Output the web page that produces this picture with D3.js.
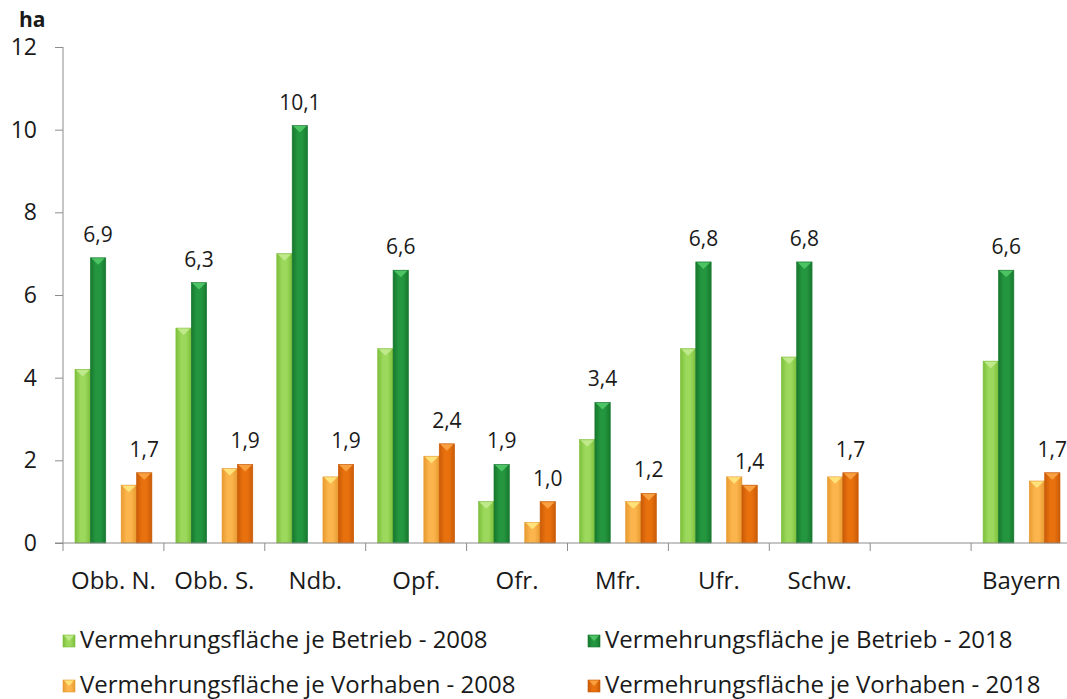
<html>
<head>
<meta charset="utf-8">
<script src="https://d3js.org/d3.v7.min.js"></script>
<style>
  body { margin: 0; background: #fff; }
  text { font-family: "Open Sans", sans-serif; fill: #1a1a1a; }
</style>
</head>
<body>
<script>
// categories (one empty slot before Bayern)
var regions = ["Obb. N.", "Obb. S.", "Ndb.", "Opf.", "Ofr.", "Mfr.", "Ufr.", "Schw.", "", "Bayern"];
var betrieb2008 = [4.2, 5.2, 7.0, 4.7, 1.0, 2.5, 4.7, 4.5, null, 4.4];
var betrieb2018 = [6.9, 6.3, 10.1, 6.6, 1.9, 3.4, 6.8, 6.8, null, 6.6];
var vorhaben2008 = [1.4, 1.8, 1.6, 2.1, 0.5, 1.0, 1.6, 1.6, null, 1.5];
var vorhaben2018 = [1.7, 1.9, 1.9, 2.4, 1.0, 1.2, 1.4, 1.7, null, 1.7];
var yTicks = [0, 2, 4, 6, 8, 10, 12];
var seriesNames = ["Vermehrungsfläche je Betrieb - 2008", "Vermehrungsfläche je Betrieb - 2018",
                   "Vermehrungsfläche je Vorhaben - 2008", "Vermehrungsfläche je Vorhaben - 2018"];

var series = [
  { key: "b08", name: seriesNames[0], values: betrieb2008, label: false, c: ["#7cbf3a", "#9bd85c", "#bfe98a"] },
  { key: "b18", name: seriesNames[1], values: betrieb2018, label: true,  c: ["#17782e", "#24963f", "#4cc463"] },
  { key: "v08", name: seriesNames[2], values: vorhaben2008, label: false, c: ["#e89a30", "#fbb54c", "#ffe27a"] },
  { key: "v18", name: seriesNames[3], values: vorhaben2018, label: true,  c: ["#c95a06", "#e8710e", "#f9a040"] }
];

var width = 1067, height = 699;
var svg = d3.select("body").append("svg").attr("width", width).attr("height", height);

var slots = regions.map(function (d, i) { return "s" + i; });
var x = d3.scaleBand().domain(slots).range([63, 1072]);
var xs = d3.scaleBand().domain(["b08", "b18", "gap", "v08", "v18"])
  .range([0, x.bandwidth()]).paddingInner(0).paddingOuter(0.78);
var y = d3.scaleLinear().domain([0, 12]).range([543, 47]);

// gradients
var defs = svg.append("defs");
series.forEach(function (s) {
  var g = defs.append("linearGradient").attr("id", "g-" + s.key)
    .attr("x1", "0").attr("x2", "1").attr("y1", "0").attr("y2", "0");
  g.append("stop").attr("offset", "0").attr("stop-color", s.c[0]);
  g.append("stop").attr("offset", "0.35").attr("stop-color", s.c[1]);
  g.append("stop").attr("offset", "0.65").attr("stop-color", s.c[1]);
  g.append("stop").attr("offset", "1").attr("stop-color", s.c[0]);
});

// y axis
var yAxis = svg.append("g").attr("transform", "translate(63,0)")
  .call(d3.axisLeft(y).tickValues(yTicks).tickSize(8).tickPadding(18).tickFormat(d3.format("d")));
yAxis.selectAll("text").style("font-size", "23px").style("font-family", "'Open Sans', sans-serif").attr("fill", "#1a1a1a");
yAxis.selectAll("line, path").attr("stroke", "#8c8c8c");
yAxis.select("path").attr("d", "M0," + y(0) + "V" + y(12));

svg.append("text").attr("x", 19).attr("y", 27).style("font-size", "21px").style("font-weight", "bold").text("ha");

// bars
series.forEach(function (s) {
  var g = svg.append("g");
  var data = s.values.map(function (v, i) { return { v: v, i: i }; }).filter(function (d) { return d.v != null; });
  var bw = xs.bandwidth();
  g.selectAll("rect").data(data).enter().append("rect")
    .attr("x", function (d) { return x(slots[d.i]) + xs(s.key); })
    .attr("y", function (d) { return y(d.v); })
    .attr("width", bw)
    .attr("height", function (d) { return y(0) - y(d.v); })
    .attr("fill", "url(#g-" + s.key + ")")
    .attr("stroke", s.c[0]).attr("stroke-width", 0.6);
  g.selectAll("path").data(data).enter().append("path")
    .attr("d", function (d) {
      var x0 = x(slots[d.i]) + xs(s.key), t = y(d.v);
      return "M" + (x0 + 1) + "," + (t + 0.5) + "H" + (x0 + bw - 1) + "L" + (x0 + bw / 2) + "," + (t + 7) + "Z";
    })
    .attr("fill", s.c[2]);
  if (s.label) {
    g.selectAll("text").data(data).enter().append("text")
      .attr("x", function (d) { return x(slots[d.i]) + xs(s.key) + bw / 2; })
      .attr("y", function (d) { return y(d.v) - 16; })
      .attr("text-anchor", "middle")
      .style("font-size", "21px")
      .text(function (d) { return d3.format(".1f")(d.v).replace(".", ","); });
  }
});

// x axis
svg.append("line").attr("x1", 55).attr("x2", 1072).attr("y1", y(0)).attr("y2", y(0)).attr("stroke", "#8c8c8c");
svg.selectAll(".xtick").data(slots.concat(["end"])).enter().append("line")
  .attr("x1", function (d) { return d === "end" ? x.range()[1] : x(d); })
  .attr("x2", function (d) { return d === "end" ? x.range()[1] : x(d); })
  .attr("y1", y(0)).attr("y2", y(0) + 8).attr("stroke", "#8c8c8c");
svg.selectAll(".xlab").data(regions).enter().append("text")
  .attr("x", function (d, i) { return x(slots[i]) + x.bandwidth() / 2; })
  .attr("y", 589).attr("text-anchor", "middle").style("font-size", "24px")
  .text(function (d) { return d; });

// legend
var legPos = [[63, 641], [588, 641], [63, 686], [588, 686]];
series.forEach(function (s, i) {
  var lg = svg.append("g").attr("transform", "translate(" + legPos[i][0] + "," + legPos[i][1] + ")");
  lg.append("rect").attr("x", 0).attr("y", -6).attr("width", 12).attr("height", 12)
    .attr("fill", "url(#g-" + s.key + ")").attr("stroke", s.c[0]).attr("stroke-width", 0.6);
  lg.append("path").attr("d", "M1,-5.5H11L6,0Z").attr("fill", s.c[2]);
  lg.append("text").attr("x", 17).attr("y", 7).style("font-size", "24px").text(s.name);
});
</script>
</body>
</html>
